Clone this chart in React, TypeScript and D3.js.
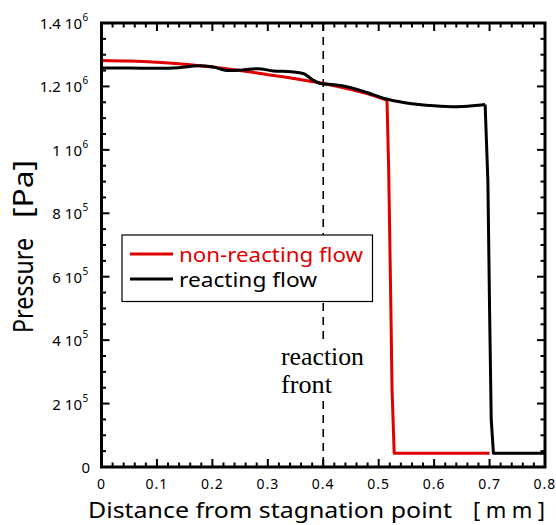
import React from "react";
import * as d3 from "d3";

const W = 556, H = 525;
const M = { left: 101.5, right: 545, top: 23, bottom: 467 };

// non-reacting flow (red)
const redX = [0, 0.05, 0.1, 0.15, 0.2, 0.25, 0.3, 0.35, 0.4, 0.45, 0.5, 0.515, 0.518, 0.522, 0.524, 0.528, 0.6, 0.7];
const redY = [1.282e6, 1.280e6, 1.276e6, 1.270e6, 1.261e6, 1.250e6, 1.237e6, 1.224e6, 1.209e6, 1.190e6, 1.166e6, 1.157e6, 9.4e5, 5.0e5, 2.5e5, 4.3e4, 4.3e4, 4.3e4];

// reacting flow (black)
const blackX = [0, 0.05, 0.1, 0.14, 0.175, 0.2, 0.228, 0.255, 0.282, 0.31, 0.342, 0.365, 0.38, 0.395, 0.42, 0.45, 0.48, 0.51, 0.55, 0.6, 0.64, 0.67, 0.692, 0.697, 0.700, 0.703, 0.707, 0.75, 0.8];
const blackY = [1.258e6, 1.258e6, 1.257e6, 1.259e6, 1.265e6, 1.262e6, 1.250e6, 1.252e6, 1.256e6, 1.249e6, 1.246e6, 1.240e6, 1.222e6, 1.209e6, 1.205e6, 1.196e6, 1.180e6, 1.162e6, 1.148e6, 1.139e6, 1.136e6, 1.139e6, 1.143e6, 9.0e5, 5.0e5, 1.5e5, 4.3e4, 4.3e4, 4.3e4];

const xTicks = [0, 0.1, 0.2, 0.3, 0.4, 0.5, 0.6, 0.7, 0.8];
const xTickLabels = ["0", "0.1", "0.2", "0.3", "0.4", "0.5", "0.6", "0.7", "0.8"];
const yTicks = [0, 2e5, 4e5, 6e5, 8e5, 1e6, 1.2e6, 1.4e6];
const yTickMant = ["0", "2 10", "4 10", "6 10", "8 10", "1 10", "1.2 10", "1.4 10"];
const yTickExp = ["", "5", "5", "5", "5", "6", "6", "6"];

const seriesNames = ["non-reacting flow", "reacting flow"];
const seriesColors = ["#e00000", "#000000"];

export default function App() {
  const x = d3.scaleLinear().domain([0, 0.8]).range([M.left, M.right]);
  const y = d3.scaleLinear().domain([0, 1.4e6]).range([M.bottom, M.top]);
  const line = d3.line<[number, number]>().x(d => x(d[0])).y(d => y(d[1])).curve(d3.curveMonotoneX);
  const lineLin = d3.line<[number, number]>().x(d => x(d[0])).y(d => y(d[1]));

  const redPts: [number, number][] = redX.map((v, i) => [v, redY[i]]);
  const blackPts: [number, number][] = blackX.map((v, i) => [v, blackY[i]]);

  const redSmooth = redPts.slice(0, 12);
  const redDrop = redPts.slice(11);
  const blackSmooth = blackPts.slice(0, 23);
  const blackDrop = blackPts.slice(22);

  const xMinor = d3.range(0, 0.8001, 0.02);
  const yMinor = d3.range(0, 1.4e6 + 1, 5e4);
  const font = "'Noto Sans', 'DejaVu Sans', sans-serif";
  const serif = "'Liberation Serif', 'Times New Roman', serif";

  return (
    <svg width={W} height={H} style={{ position: "absolute", left: 0, top: 0, background: "#fff" }}>
      <rect x={0} y={0} width={W} height={H} fill="#fff" />
      {/* dashed reaction front line */}
      <line x1={x(0.4)} x2={x(0.4)} y1={M.top} y2={M.bottom} stroke="#000" strokeWidth={1.6} strokeDasharray="8,6" />
      {/* reaction front label */}
      <rect x={278} y={340} width={92} height={60} fill="#fff" />
      <text x={281} y={365} fontFamily={serif} fontSize={25} textLength={83} lengthAdjust="spacingAndGlyphs">reaction</text>
      <text x={281} y={393} fontFamily={serif} fontSize={25} textLength={51} lengthAdjust="spacingAndGlyphs">front</text>

      {/* curves */}
      <path d={line(redSmooth) || ""} fill="none" stroke={seriesColors[0]} strokeWidth={3} />
      <path d={lineLin(redDrop) || ""} fill="none" stroke={seriesColors[0]} strokeWidth={3} strokeLinejoin="round" />
      <path d={line(blackSmooth) || ""} fill="none" stroke={seriesColors[1]} strokeWidth={3} />
      <path d={lineLin(blackDrop) || ""} fill="none" stroke={seriesColors[1]} strokeWidth={3} strokeLinejoin="round" />

      {/* ticks */}
      {xMinor.map((v, i) => {
        const major = i % 5 === 0;
        const len = major ? 8 : 4.5;
        return (
          <g key={"xt" + i}>
            <line x1={x(v)} x2={x(v)} y1={M.bottom} y2={M.bottom - len} stroke="#000" strokeWidth={2} />
            <line x1={x(v)} x2={x(v)} y1={M.top} y2={M.top + len} stroke="#000" strokeWidth={2} />
          </g>
        );
      })}
      {yMinor.map((v, i) => {
        const major = i % 4 === 0;
        const len = major ? 8 : 4.5;
        return (
          <g key={"yt" + i}>
            <line x1={M.left} x2={M.left + len} y1={y(v)} y2={y(v)} stroke="#000" strokeWidth={2} />
            <line x1={M.right} x2={M.right - len} y1={y(v)} y2={y(v)} stroke="#000" strokeWidth={2} />
          </g>
        );
      })}
      {/* frame */}
      <rect x={M.left} y={M.top} width={M.right - M.left} height={M.bottom - M.top} fill="none" stroke="#000" strokeWidth={3} />

      {/* legend */}
      <rect x={122} y={235} width={250.5} height={66.5} fill="#fff" stroke="#000" strokeWidth={1.2} />
      <line x1={130} x2={173} y1={254} y2={254} stroke={seriesColors[0]} strokeWidth={3} />
      <line x1={130} x2={173} y1={279} y2={279} stroke={seriesColors[1]} strokeWidth={3} />
      <text x={179} y={262} fontFamily={font} fontSize={19.5} fill={seriesColors[0]} textLength={184} lengthAdjust="spacingAndGlyphs">{seriesNames[0]}</text>
      <text x={179} y={287} fontFamily={font} fontSize={19.5} fill={seriesColors[1]} textLength={138} lengthAdjust="spacingAndGlyphs">{seriesNames[1]}</text>

      {/* x tick labels */}
      {xTicks.map((v, i) => (
        <text key={"xl" + i} x={x(v)} y={489} textAnchor="middle" fontFamily={font} fontSize={14} letterSpacing={1}>{xTickLabels[i]}</text>
      ))}
      {/* y tick labels */}
      {yTicks.map((v, i) => (
        <text key={"yl" + i} x={yTickExp[i] ? 82 : 90} y={y(v) + 6} textAnchor="end" fontFamily={font} fontSize={15}>{yTickMant[i]}</text>
      ))}
      {yTicks.map((v, i) => yTickExp[i] ? (
        <text key={"ye" + i} x={82.5} y={y(v) - 2} textAnchor="start" fontFamily={font} fontSize={10}>{yTickExp[i]}</text>
      ) : null)}

      {/* axis titles */}
      <text x={88} y={518} fontFamily={font} fontSize={21.5} textLength={364} lengthAdjust="spacingAndGlyphs">Distance from stagnation point</text>
      <text x={473} y={518} fontFamily={font} fontSize={22} textLength={72} lengthAdjust="spacing">[mm]</text>
      <g transform="translate(32.5,333) rotate(-90)">
        <text x={0} y={0} fontFamily={font} fontSize={27} textLength={95} lengthAdjust="spacingAndGlyphs">Pressure</text>
        <text x={115} y={0} fontFamily={font} fontSize={27} textLength={58} lengthAdjust="spacingAndGlyphs">[Pa]</text>
      </g>
    </svg>
  );
}
